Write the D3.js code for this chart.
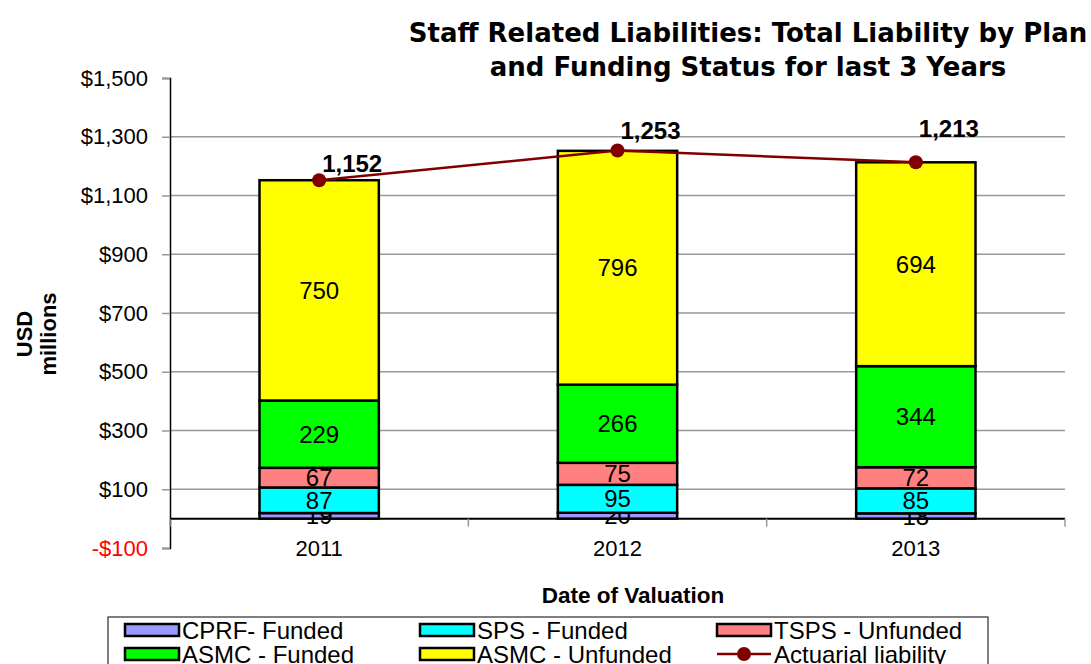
<!DOCTYPE html>
<html>
<head>
<meta charset="utf-8">
<script src="https://cdn.jsdelivr.net/npm/d3@7"></script>
<style>
  body { margin: 0; background: #fff; }
  svg { display: block; font-family: "Liberation Sans", Arial, sans-serif; }
</style>
</head>
<body>
<div id="canvas"></div>
<script>
"use strict"

/* Data */
let years = ["2011", "2012", "2013"];
let seriesNames = ["CPRF- Funded", "SPS - Funded", "TSPS - Unfunded", "ASMC - Funded", "ASMC - Unfunded"];
let cprfFunded = [19, 20, 18];
let spsFunded = [87, 95, 85];
let tspsUnfunded = [67, 75, 72];
let asmcFunded = [229, 266, 344];
let asmcUnfunded = [750, 796, 694];
let actuarial = [1152, 1253, 1213];
let yTicks = [-100, 100, 300, 500, 700, 900, 1100, 1300, 1500];

/* Drawing config */
let svgWidth = 1091;
let svgHeight = 664;
let colors = ["#9999ff", "#00ffff", "#ff8080", "#00ff00", "#ffff00"];
let lineColor = "#800000";
let labelDy = [-8, -12, -25]; // label offsets above the line points

let svg = d3.select("#canvas")
    .append("svg")
    .attr("width", svgWidth)
    .attr("height", svgHeight);

let xScale = d3.scaleBand()
    .domain(years)
    .range([170, 1065]);

let yScale = d3.scaleLinear()
    .domain([-100, 1500])
    .range([548, 78]);

let barWidth = xScale.bandwidth() * 0.4;

// gridlines (not on top / bottom tick)
svg.selectAll(".grid")
    .data(yTicks.filter(d => d > -100 && d < 1500))
    .join("line")
    .attr("x1", 170)
    .attr("x2", 1065)
    .attr("y1", d => yScale(d))
    .attr("y2", d => yScale(d))
    .attr("stroke", "#999")
    .attr("stroke-width", 1.5);

// y axis
let yAxis = d3.axisLeft(yScale)
    .tickValues(yTicks)
    .tickSize(8)
    .tickPadding(14)
    .tickFormat(d => (d < 0 ? "-$" : "$") + d3.format(",")(Math.abs(d)));

let yAxisG = svg.append("g")
    .attr("transform", "translate(170,0)")
    .call(yAxis);
yAxisG.select(".domain").attr("stroke", "black").attr("stroke-width", 1.5);
yAxisG.selectAll(".tick line").attr("stroke", "#999").attr("stroke-width", 1.5);
yAxisG.selectAll(".tick text")
    .style("font-size", "22px")
    .style("font-family", "Liberation Sans, Arial, sans-serif")
    .attr("fill", d => d < 0 ? "red" : "black");

// zero line and category ticks
svg.append("line")
    .attr("x1", 170).attr("x2", 1065)
    .attr("y1", yScale(0)).attr("y2", yScale(0))
    .attr("stroke", "black")
    .attr("stroke-width", 2);

let boundaries = years.map(d => xScale(d)).concat([xScale.range()[1]]);
svg.selectAll(".cat-tick")
    .data(boundaries)
    .join("line")
    .attr("x1", d => d).attr("x2", d => d)
    .attr("y1", yScale(0)).attr("y2", yScale(0) + 8)
    .attr("stroke", "#999")
    .attr("stroke-width", 1.5);

// x labels
svg.selectAll(".x-label")
    .data(years)
    .join("text")
    .attr("x", d => xScale(d) + xScale.bandwidth() / 2)
    .attr("y", 556)
    .attr("text-anchor", "middle")
    .style("font-size", "22px")
    .text(d => d);

// stacked bars
let table = years.map(function(y, i) {
    return {
        year: y,
        s0: cprfFunded[i], s1: spsFunded[i], s2: tspsUnfunded[i],
        s3: asmcFunded[i], s4: asmcUnfunded[i]
    };
});
let stack = d3.stack().keys(["s0", "s1", "s2", "s3", "s4"]);
let stacked = stack(table);

let layers = svg.selectAll(".layer")
    .data(stacked)
    .join("g")
    .attr("fill", (d, i) => colors[i]);

layers.selectAll("rect")
    .data(d => d)
    .join("rect")
    .attr("x", d => xScale(d.data.year) + (xScale.bandwidth() - barWidth) / 2)
    .attr("y", d => yScale(d[1]))
    .attr("width", barWidth)
    .attr("height", d => yScale(d[0]) - yScale(d[1]))
    .attr("stroke", "black")
    .attr("stroke-width", 2.5);

layers.selectAll("text")
    .data(d => d)
    .join("text")
    .attr("x", d => xScale(d.data.year) + xScale.bandwidth() / 2)
    .attr("y", d => yScale((d[0] + d[1]) / 2))
    .attr("dy", "0.36em")
    .attr("text-anchor", "middle")
    .attr("fill", "black")
    .style("font-size", "24px")
    .text(d => d[1] - d[0]);

// actuarial liability line
let line = d3.line()
    .x((d, i) => xScale(years[i]) + xScale.bandwidth() / 2)
    .y(d => yScale(d));

svg.append("path")
    .datum(actuarial)
    .attr("d", line)
    .attr("fill", "none")
    .attr("stroke", lineColor)
    .attr("stroke-width", 2.5);

svg.selectAll(".pt")
    .data(actuarial)
    .join("circle")
    .attr("cx", (d, i) => xScale(years[i]) + xScale.bandwidth() / 2)
    .attr("cy", d => yScale(d))
    .attr("r", 7)
    .attr("fill", lineColor);

svg.selectAll(".pt-label")
    .data(actuarial)
    .join("text")
    .attr("x", (d, i) => xScale(years[i]) + xScale.bandwidth() / 2 + 33)
    .attr("y", (d, i) => yScale(d) + labelDy[i])
    .attr("text-anchor", "middle")
    .style("font-size", "24px")
    .style("font-weight", "bold")
    .text(d => d3.format(",")(d));

// titles
let title = svg.append("text")
    .attr("text-anchor", "middle")
    .style("font-family", "DejaVu Sans, Verdana, sans-serif")
    .style("font-weight", "bold")
    .style("font-size", "26px");
title.append("tspan").attr("x", 748).attr("y", 42).text("Staff Related Liabilities: Total Liability by Plan");
title.append("tspan").attr("x", 748).attr("y", 76).text("and Funding Status for last 3 Years");

svg.append("text")
    .attr("x", 633)
    .attr("y", 603)
    .attr("text-anchor", "middle")
    .style("font-size", "22.5px")
    .style("font-weight", "bold")
    .text("Date of Valuation");

let yTitle = svg.append("text")
    .attr("transform", "translate(0,334) rotate(-90)")
    .attr("text-anchor", "middle")
    .style("font-size", "22px")
    .style("font-weight", "bold");
yTitle.append("tspan").attr("x", 0).attr("y", 32).text("USD");
yTitle.append("tspan").attr("x", 0).attr("y", 56).text("millions");

// legend
svg.append("rect")
    .attr("x", 108)
    .attr("y", 617)
    .attr("width", 880)
    .attr("height", 60)
    .attr("fill", "white")
    .attr("stroke", "black")
    .attr("stroke-width", 1);

let legendItems = seriesNames.map((n, i) => ({ name: n, color: colors[i], type: "rect" }))
    .concat([{ name: "Actuarial liability", color: lineColor, type: "line" }]);
let colX = [125, 420, 717];
let rowY = [630, 654];

let legend = svg.selectAll(".legend-item")
    .data(legendItems)
    .join("g")
    .attr("transform", (d, i) => "translate(" + colX[i % 3] + "," + rowY[Math.floor(i / 3)] + ")");

legend.filter(d => d.type == "rect")
    .append("rect")
    .attr("x", 0)
    .attr("y", -6)
    .attr("width", 54)
    .attr("height", 12)
    .attr("fill", d => d.color)
    .attr("stroke", "black")
    .attr("stroke-width", 2.5);

let lineItem = legend.filter(d => d.type == "line");
lineItem.append("line")
    .attr("x1", 0).attr("x2", 54)
    .attr("y1", 0).attr("y2", 0)
    .attr("stroke", lineColor)
    .attr("stroke-width", 2.5);
lineItem.append("circle")
    .attr("cx", 27)
    .attr("cy", 0)
    .attr("r", 7)
    .attr("fill", lineColor);

legend.append("text")
    .attr("x", 57)
    .attr("y", 0)
    .attr("dy", "0.36em")
    .style("font-size", "24px")
    .text(d => d.name);
</script>
</body>
</html>
